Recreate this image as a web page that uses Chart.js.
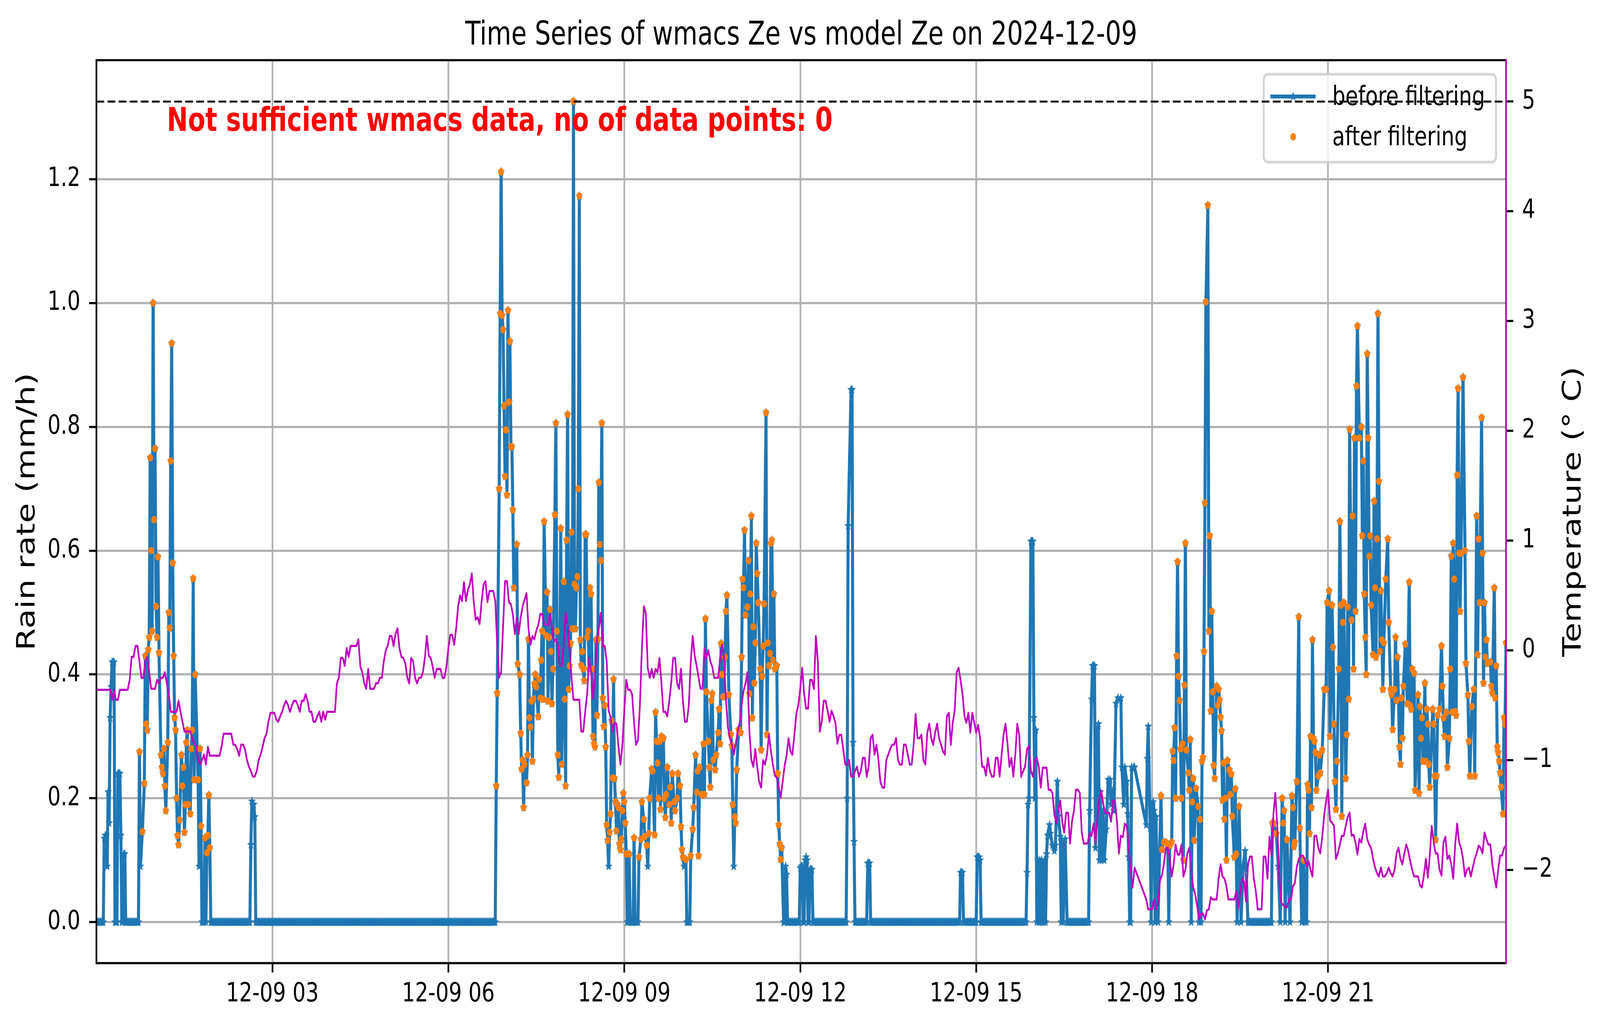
<!DOCTYPE html>
<html>
<head>
<meta charset="utf-8">
<title>wmacs Ze vs model Ze 2024-12-09</title>
<script src="https://cdn.jsdelivr.net/npm/chart.js@4.4.1/dist/chart.umd.min.js"></script>
<style>
  html, body { margin: 0; padding: 0; background: #fff; overflow: hidden; }
  #wrap { position: relative; width: 100vw; height: 100vh; overflow: hidden; }
  #ze-chart { display: block; position: absolute; left: 0; top: 0; transform-origin: 0 0; }
</style>
</head>
<body>
<div id="wrap">
<canvas id="ze-chart" width="5277" height="2631" style="width:5277px;height:2631px"></canvas>
</div>
<script>
// Axis ticks (x in minutes after 2024-12-09 00:00)
const xTickMinutes = [180, 360, 540, 720, 900, 1080, 1260];
const xTickLabels = ['12-09 03', '12-09 06', '12-09 09', '12-09 12', '12-09 15', '12-09 18', '12-09 21'];
const rainTicks = [0, 0.2, 0.4, 0.6, 0.8, 1.0, 1.2];
const rainTickLabels = ['0.0', '0.2', '0.4', '0.6', '0.8', '1.0', '1.2'];
const tempTicks = [-2, -1, 0, 1, 2, 3, 4, 5];
const tempTickLabels = ['\u22122', '\u22121', '0', '1', '2', '3', '4', '5'];

const chartTitle = 'Time Series of wmacs Ze vs model Ze on 2024-12-09';
const rainAxisTitle = 'Rain rate (mm/h)';
const tempAxisTitle = 'Temperature (\u00b0 C)';
const seriesLabels = ['before filtering', 'after filtering'];
const warningText = 'Not sufficient wmacs data, no of data points: 0';

// Rain rate, one value per minute, one row per hour (null = no sample read)
const rainByHour = [
  [0,0,0,0,0,0,0,0,0.135,0.14, 0.14,0.09,0.21,0.16,0.33,0.38,0.42,0.42,0.42,0, 0,0,0.24,0.24,0.24,0.14,0,0,0.11,0.11, 0,0,0,0,0,0,0,0,0,0, 0,0,0,0,0.275,0.09,null,0.146,null,0.224, 0.43,0.32,0.31,0.44,0.46,0.75,0.6,0.47,1.0,0.65],
  [0.765,0.51,0.46,0.59,0.435,null,0.27,0.25,0.24,0.28, 0.22,0.18,null,0.29,0.5,0.475,0.745,0.935,0.58,0.43, 0.33,0.31,0.2,0.14,0.125,0.165,null,0.27,0.22,0.25, 0.145,0.19,0.29,0.31,0.19,null,0.175,0.28,0.31,0.555, 0.23,0.4,null,null,0.23,0.09,0.28,0.155,0,0, 0,0.136,0,0.112,0.14,0.205,0.12,0,0,0],
  [0,0,0,0,0,0,0,0,0,0, 0,0,0,0,0,0,0,0,0,0, 0,0,0,0,0,0,0,0,0,0, 0,0,0,0,0,0,0,0,0.125,0.195, 0.19,0.19,0.17,0,0,0,0,0,0,0, 0,0,0,0,0,0,0,0,0,0],
  [0,0,0,0,0,0,0,0,0,0, 0,0,0,0,0,0,0,0,0,0, 0,0,0,0,0,0,0,0,0,0, 0,0,0,0,0,0,0,0,0,0, 0,0,0,0,0,0,0,0,0,0, 0,0,0,0,0,0,0,0,0,0],
  [0,0,0,0,0,0,0,0,0,0, 0,0,0,0,0,0,0,0,0,0, 0,0,0,0,0,0,0,0,0,0, 0,0,0,0,0,0,0,0,0,0, 0,0,0,0,0,0,0,0,0,0, 0,0,0,0,0,0,0,0,0,0],
  [0,0,0,0,0,0,0,0,0,0, 0,0,0,0,0,0,0,0,0,0, 0,0,0,0,0,0,0,0,0,0, 0,0,0,0,0,0,0,0,0,0, 0,0,0,0,0,0,0,0,0,0, 0,0,0,0,0,0,0,0,0,0],
  [0,0,0,0,0,0,0,0,0,0, 0,0,0,0,0,0,0,0,0,0, 0,0,0,0,0,0,0,0,0,0, 0,0,0,0,0,0,0,0,0,0, 0,0,0,0,0,0,0,0,0,0.22, 0.37,null,0.7,0.983,1.212,0.98,0.957,0.834,0.72,0.795],
  [0.69,0.988,0.84,0.938,0.768,0.768,0.666,0.54,null,null, 0.61,0.417,null,0.4,0.305,0.247,0.262,0.185,0.255,null, 0.225,0.27,0.457,0.33,0.315,0.357,0.26,0.36,0.385,0.4, 0.38,null,0.332,0.392,0.362,0.423,0.47,0.36,0.647,null, 0.463,0.533,0.357,0.46,0.505,0.437,0.353,0.409,null,0.658, 0.806,0.47,0.27,0.234,null,0.636,0.255,null,0.55,0.36],
  [0.22,0.617,0.82,0.376,0.414,0.45,0.63,0.474,1.326,0.546, 0.474,0.54,0.558,0.7,1.173,0.456,0.415,0.437,0.409,0.39, 0.626,0.626,0.46,0.47,0.409,0.54,0.53,0.409,0.3,0.288, 0.283,0.456,0.334,0.457,0.71,0.61,0.584,0.806,0.362,0.316, 0.35,0.283,0.157,0.132,0.09,0.145,0.175,0.325,0.233,0.392, 0.232,0.194,0.147,0.19,0.185,0.126,0.117,0.134,0.18,0.208],
  [0.194,0.16,0.11,0,0,0.11,0,0,0,0, 0.136,0,0,0,0,0.105,null,0.134,0.194,null, 0.166,0.138,null,0.124,0.09,0.143,0.2,null,0.247,0.244, null,0.141,0.339,0.292,0.257,0.2,0.292,0.182,0.3,null, 0.297,0.2,0.169,0.206,0.25,null,0.19,0.218,0.16,0.24, null,0.194,0.18,null,0.2,0.24,null,0.22,0.154,0.117],
  [0.105,0.09,null,0.101,0,0,0,0,0.107,null, 0.15,0.185,null,0.27,0.21,0.244,0.107,0.25,null,0.206, null,0.288,0.206,0.49,0.372,null,0.292,0.25,0.218,0.358, 0.369,0.262,null,0.246,0.27,null,0.306,0.344,0.288,0.45, 0.4,0.364,null,0.428,0.502,0.528,null,0.367,null,0.303, 0.285,0.19,0.09,0.17,0.16,0.246,null,0.311,null,0.306],
  [0.428,0.554,0.54,0.633,0.496,null,0.509,0.584,0.369,0.53, 0.656,0.33,0.477,0.386,0.451,0.612,0.563,0.516,null,0.409, 0.278,0.397,0.446,0.514,null,0.823,0.303,0.451,0.414,0.434, 0.612,0.617,0.423,0.53,0.409,null,0.414,0.24,0.157,0.126, 0.101,0.12,null,0,0,0.09,0.077,0,0,0, 0,0,0,0,0,0,0,0,0,0],
  [0.087,0.09,0.09,0,0,0.1,0.105,0.1,0,0, 0.085,0.085,0.085,0,0,0,0,0,0,0, 0,0,0,0,0,0,0,0,0,0, 0,0,0,0,0,0,0,0,0,0, 0,0,0,0,0,0,0,0,0.2,0.64, null,null,0.86,0.86,0.29,0.13,0,0,0,0],
  [0,0,0,0,0,0,0,0,0,0.095, 0.095,0.095,0,0,0,0,0,0,0,0, 0,0,0,0,0,0,0,0,0,0, 0,0,0,0,0,0,0,0,0,0, 0,0,0,0,0,0,0,0,0,0, 0,0,0,0,0,0,0,0,0,0],
  [0,0,0,0,0,0,0,0,0,0, 0,0,0,0,0,0,0,0,0,0, 0,0,0,0,0,0,0,0,0,0, 0,0,0,0,0,0,0,0,0,0, 0,0,0,0,0.08,0.08,0.08,0,0,0, 0,0,0,0,0,0,0,0,0,0],
  [0,0.105,0.105,0.105,0.1,0,0,0,0,0, 0,0,0,0,0,0,0,0,0,0, 0,0,0,0,0,0,0,0,0,0, 0,0,0,0,0,0,0,0,0,0, 0,0,0,0,0,0,0,0,0,0, 0,0,0.08,0.19,0.2,null,0.615,0.615,0.615,0.33],
  [0.2,0.31,0,0.1,0,0.1,0,0.1,0,0, 0.1,0,0.11,0.14,null,0.157,0.143,null,0.124,null, 0.115,0.124,null,0.227,0.171,null,0.138,0,0.13,0, null,0.134,null,0,0,0,0,0,0,0, 0,0,0,0,0,0,0,0,0,0, 0,0,0,0,0,0,0.18,null,0.36,0.414],
  [0.414,0.414,0.12,null,0.31,0.32,0.1,0.21,0.1,null, 0.18,0.1,null,0.15,null,0.23,null,0.23,0.19,null, 0.213,0.18,null,0.353,null,0.362,null,null,0.362,0.25, null,0.19,0.25,null,0.227,0.175,0.105,0,0,0.25, null,0.25,0.25,null,null,null,null,null,null,null, null,null,null,null,0.157,0.264,0.316,null,0.152,0],
  [0.19,0.194,0.18,0,0.17,null,0,null,null,0.204, 0.117,null,0.129,null,0.129,null,0.124,0,0.124,null, 0.129,0.276,0.261,0.314,0.2,0.43,0.582,0.397,0.358,0.28, 0.2,0.288,0.1,0.383,0.612,0.278,null,0.241,0.213,0.295, 0,0.194,0.232,0.132,null,0.216,null,0.187,0,0.166, 0,0.26,0.266,0.437,0.677,1.002,null,1.158,0.47,0.624],
  [0.341,0.502,0.372,0.253,0.232,null,0.381,0.35,0.376,0.359, 0.331,0.309,0.197,0.257,0.166,0.2,0.1,0.261,null,0.246, 0.206,0.239,0.171,null,0.105,0.215,0.11,0,null,0.187, null,0,null,0.09,null,0.115,0.09,null,0,0, 0,0,0,0,0,0,0,0,0,0, 0,0,0,0,0,0,0,0,0,0],
  [0,0,0,0.16,0.16,null,null,0.143,null,0.09, null,0,null,0.2,0.16,0.18,0,null,0.133,null, null,0,null,0.204,0.185,0.122,0.129,null,0.227,null, 0.493,0.152,null,0,null,0.1,0,null,0,0.222, 0.213,0.143,0.3,0.185,0.456,0.297,0.292,0.274,0.213,null, 0.236,0.27,0.241,null,0.278,null,0.376,null,0.376,0.516],
  [null,0.535,0.3,null,0.512,0.444,0.32,0.227,0.182,0.26, null,0.409,0.647,0.512,0.171,0.484,0.516,null,0.232,0.303, 0.509,0.36,0.796,null,0.488,0.656,0.409,0.782,0.502,0.866, 0.963,null,0.782,null,0.8,0.624,0.745,0.53,0.46,0.4, 0.918,0.782,0.591,0.624,0.512,null,0.432,0.68,0.54,0.428, 0.619,0.983,0.712,0.437,0.535,0.456,0.376,0.451,null,0.554],
  [null,0.619,0.484,null,0.376,0.367,0.311,null,0.376,0.46, 0.358,0.428,null,0.283,0.255,0.362,0.297,0.381,null,0.449, null,0.353,null,0.549,0.35,0.344,0.409,null,0.402,0.213, null,null,0.367,0.208,0.348,0.297,0.33,0.26,null,0.386, 0.26,0.344,0.32,0.255,0.218,null,null,0.344,0.32,0.236, 0.133,0.236,0.334,null,0.344,null,0.446,0.381,0.33,0.3],
  [null,0.339,0.25,null,0.297,0.409,0.591,0.339,0.612,0.554, 0.34,0.334,0.722,0.862,0.596,0.502,0.596,null,0.88,null, 0.6,0.418,null,0.367,0.292,0.236,null,0.348,null,0.376, 0.236,null,0.656,0.432,0.619,0.516,null,0.815,0.596,0.386, 0.516,0.428,0.456,0.418,null,null,0.42,0.381,0.37,null, 0.54,0.362,0.414,0.283,0.274,0.26,0.241,0.218,null,0.175]
];
const rainTail = [0.33, 0.32, 0.451];   // minutes 1440-1442

// Periods where the filter keeps samples, and the minimum rain rate kept
const filterWindows = [[43, 117], [408, 705], [1086, 1170], [1200, 1442]];
const filterThreshold = 0.1;

// Model temperature (deg C), one value every 2 minutes, one row per hour
const tempByHour = [
  [-0.36,-0.36,-0.36,-0.36,-0.36,-0.36,-0.36,-0.36,-0.45,-0.36, -0.45,-0.45,-0.36,-0.36,-0.36,-0.36,-0.36,-0.27,-0.06,-0.06, 0.04,0.04,-0.1,-0.25,-0.25,-0.1,-0.06,-0.2,-0.35,-0.35],
  [-0.35,-0.27,-0.3,-0.25,-0.25,-0.2,-0.3,-0.4,-0.56,-0.56, -0.56,-0.56,-0.46,-0.56,-0.65,-0.74,-0.74,-0.74,-0.74,-0.8, -0.85,-0.87,-1.0,-1.04,-1.0,-0.95,-1.04,-0.88,-0.96,-0.96],
  [-0.96,-0.96,-0.96,-0.96,-0.88,-0.76,-0.76,-0.76,-0.76,-0.76, -0.86,-0.86,-0.9,-0.96,-0.86,-0.86,-0.9,-1.0,-1.06,-1.1, -1.15,-1.15,-1.1,-1.0,-0.95,-0.88,-0.8,-0.76,-0.65,-0.57],
  [-0.57,-0.57,-0.63,-0.65,-0.6,-0.56,-0.5,-0.46,-0.5,-0.56, -0.5,-0.46,-0.46,-0.5,-0.56,-0.46,-0.46,-0.4,-0.46,-0.56, -0.56,-0.65,-0.65,-0.6,-0.56,-0.65,-0.56,-0.63,-0.56,-0.56],
  [-0.56,-0.56,-0.56,-0.3,-0.25,-0.07,-0.07,-0.14,0.02,-0.06, 0.04,0.04,0.04,0.04,0.1,-0.15,-0.2,-0.3,-0.35,-0.17, -0.35,-0.35,-0.35,-0.3,-0.3,-0.25,-0.25,-0.1,0.0,0.04],
  [0.13,0.13,0.04,0.15,0.2,0.02,-0.06,-0.07,-0.12,-0.25, -0.3,-0.07,-0.1,-0.25,-0.3,-0.25,-0.25,-0.2,-0.07,0.13, -0.05,-0.07,-0.15,-0.25,-0.17,-0.17,-0.17,-0.25,-0.25,-0.15],
  [0.02,0.14,0.14,0.05,0.2,0.4,0.5,0.45,0.62,0.45, 0.55,0.6,0.7,0.44,0.28,0.3,0.24,0.44,0.6,0.63, 0.44,0.54,0.54,0.54,0.45,0.05,-0.25,-0.2,0.22,0.63],
  [0.63,0.44,0.42,0.33,0.15,0.3,0.15,0.3,0.4,0.46, 0.52,0.2,0.05,0.13,0.1,0.18,0.23,0.33,0.33,0.24, 0.23,0.23,0.33,0.2,0.08,0.1,0.05,-0.14,-0.14,0.05],
  [0.34,0.22,0.0,-0.25,-0.45,-0.45,-0.45,-0.45,-0.74,-0.74, -0.56,-0.4,-0.07,-0.19,-0.44,-0.24,0.1,0.2,0.34,0.04, 0.04,-0.1,-0.55,-0.61,-0.74,-0.66,-0.67,-0.87,-1.04,-0.87],
  [-0.55,-0.27,-0.36,-0.36,-0.4,-0.66,-0.86,-0.82,-0.5,0.02, 0.4,0.34,-0.16,-0.25,-0.17,-0.25,-0.17,-0.2,-0.07,-0.3, -0.56,-0.56,-0.6,-0.46,-0.3,-0.07,-0.07,-0.3,-0.35,-0.17],
  [-0.46,-0.65,-0.65,-0.5,-0.1,0.13,-0.05,-0.14,-0.25,-0.35, -0.35,0.02,-0.07,0.0,-0.1,-0.15,-0.25,-0.25,-0.25,-0.07, 0.05,-0.05,-0.45,-0.7,-0.8,-0.86,-0.95,-0.85,-0.74,-0.66],
  [-0.5,-0.37,-0.3,-0.2,-0.74,-1.0,-1.06,-0.9,-1.06,-1.2, -1.25,-1.0,-1.04,-0.95,-0.77,-0.92,-1.04,-1.14,-1.16,-1.25, -1.34,-1.2,-1.05,-0.96,-0.8,-0.92,-0.95,-0.77,-0.58,-0.5],
  [-0.35,-0.16,-0.4,-0.53,-0.53,-0.27,-0.27,-0.35,0.13,-0.1, -0.74,-0.65,-0.46,-0.46,-0.55,-0.65,-0.55,-0.6,-0.66,-0.85, -0.77,-0.77,-0.9,-1.04,-1.04,-1.0,-1.15,-1.15,-1.1,-1.06],
  [-1.15,-1.1,-0.98,-0.98,-1.15,-1.06,-0.8,-0.77,-0.95,-0.86, -1.0,-1.2,-1.25,-1.25,-1.0,-0.95,-0.9,-0.86,-0.86,-0.8, -1.0,-1.04,-1.04,-0.86,-0.86,-0.95,-1.04,-1.04,-0.86,-0.58],
  [-0.8,-0.8,-0.77,-1.0,-1.04,-0.75,-0.67,-0.8,-0.86,-0.75, -0.67,-0.8,-0.86,-0.92,-0.95,-0.6,-0.57,-0.86,-0.66,-0.55, -0.2,-0.16,-0.27,-0.4,-0.6,-0.66,-0.57,-0.75,-0.57,-0.66],
  [-0.75,-0.68,-0.8,-1.06,-1.06,-1.14,-0.98,-1.1,-1.15,-1.15, -0.98,-0.98,-1.15,-0.95,-0.77,-0.67,-0.85,-1.06,-0.98,-1.15, -0.95,-0.67,-0.77,-1.15,-1.1,-1.06,-0.9,-0.87,-1.1,-1.15],
  [-1.0,-0.98,-1.06,-1.25,-1.07,-1.07,-1.07,-1.27,-1.27,-1.3, -1.5,-1.57,-1.45,-1.37,-1.56,-1.66,-1.48,-1.48,-1.76,-1.56, -1.46,-1.27,-1.27,-1.3,-1.66,-1.76,-1.76,-1.76,-1.66,-1.69],
  [-1.58,-1.76,-1.53,-1.35,-1.28,-1.4,-1.48,-1.48,-1.48,-1.56, -1.37,-1.37,-1.56,-1.85,-1.69,-1.7,-1.58,-1.6,-1.8,-2.0, -2.16,-1.98,null,null,null,null,null,-2.27,-2.36,-2.36],
  [-2.36,-2.27,-2.36,-2.3,-2.1,-2.05,-1.95,-1.8,-1.8,-1.9, -2.06,-1.95,-1.77,-1.86,-1.86,-1.77,-2.06,-2.0,-1.85,-1.8, -2.0,-2.16,-2.22,-2.33,-2.45,-2.4,-2.4,-2.45,-2.37,-2.36],
  [-2.25,-2.27,-2.27,-2.27,-2.08,-1.95,-2.06,-2.08,-2.15,-2.27, -2.27,-2.27,-2.27,-2.2,-2.35,-2.2,-2.08,-2.11,-2.29,-1.95, -1.88,-1.88,-2.08,-2.19,-2.36,-2.36,-2.36,-1.88,-1.88,-2.08],
  [-1.7,-1.87,-1.5,-1.3,-1.6,-2.05,-2.3,-2.32,-2.34,-2.34, -2.27,-2.27,-2.15,-2.12,-1.97,-1.9,-1.87,-1.87,-1.9,-1.97, -1.92,-2.0,-2.06,-1.69,-1.69,-1.8,-1.85,-1.7,-1.5,-1.37],
  [-1.27,-1.55,-1.57,-1.6,-1.9,-1.85,-1.77,-1.69,-1.69,-1.6, -1.52,-1.48,-1.69,-1.68,-1.75,-1.86,-1.72,-1.75,-1.65,-1.58, -1.72,-1.77,-1.8,-1.9,-1.98,-2.03,-2.06,-1.98,-2.06,-2.06],
  [-2.03,-1.98,-2.03,-2.06,-2.0,-1.85,-1.8,-1.9,-1.95,-1.85, -1.77,-1.83,-1.92,-2.0,-2.06,-2.06,-2.06,-2.14,-2.16,-2.05, -1.9,-2.07,-1.87,-1.6,-1.75,-1.85,-1.85,-2.0,-2.05,-1.75],
  [-1.7,-1.9,-1.87,-1.95,-2.08,-1.77,-1.58,-1.75,-1.8,-1.9, -2.06,-2.0,-1.98,-2.06,-1.98,-1.9,-1.85,-1.78,-1.8,-1.85, -1.66,-1.72,-1.77,-1.77,-1.95,-2.06,-2.16,-2.0,-1.87,-1.87]
];
const tempTail = [-1.8, -1.78];   // minutes 1440, 1442

const tempReference = 5;   // dashed reference line on the temperature axis

const COLORS = {
  before: '#1f77b4',
  after: '#ff7f0e',
  temp: '#bf00bf',
  grid: '#b0b0b0'
};
const FONT = '"DejaVu Sans", "Liberation Sans", sans-serif';
const CANVAS_W = 5277, CANVAS_H = 2631;

// Build point lists
function buildRainPoints() {
  const points = [];
  rainByHour.forEach((row, h) => {
    if (row.length !== 60) console.warn('rain row', h, 'has', row.length, 'values');
    row.forEach((v, i) => {
      if (v !== null) points.push({ x: h * 60 + i, y: v });
    });
  });
  rainTail.forEach((v, i) => {
    if (v !== null) points.push({ x: 1440 + i, y: v });
  });
  return points;
}

function buildTempPoints() {
  const points = [];
  tempByHour.forEach((row, h) => {
    if (row.length !== 30) console.warn('temp row', h, 'has', row.length, 'values');
    row.forEach((v, i) => {
      if (v !== null) points.push({ x: h * 60 + i * 2, y: v });
    });
  });
  tempTail.forEach((v, i) => {
    if (v !== null) points.push({ x: 1440 + i * 2, y: v });
  });
  return points;
}

const rainPoints = buildRainPoints();
const filteredPoints = rainPoints.filter(p =>
  p.y >= filterThreshold && filterWindows.some(w => p.x >= w[0] && p.x <= w[1]));
const tempPoints = buildTempPoints();

// matplotlib-like filled star marker
function makeStar(r, color) {
  const c = document.createElement('canvas');
  c.width = c.height = Math.ceil(2 * r + 2);
  const ctx = c.getContext('2d');
  const cx = c.width / 2, cy = c.height / 2;
  ctx.fillStyle = color;
  ctx.beginPath();
  for (let k = 0; k < 10; k++) {
    const ang = -Math.PI / 2 + k * Math.PI / 5;
    const rr = k % 2 === 0 ? r : r * 0.42;
    ctx.lineTo(cx + rr * Math.cos(ang), cy + rr * Math.sin(ang));
  }
  ctx.closePath();
  ctx.fill();
  return c;
}
const starMarker = makeStar(13, COLORS.before);

function fixedTicks(values) {
  return function (scale) {
    scale.ticks = values.map(v => ({ value: v }));
  };
}

function drawLegend(chart) {
  const ctx = chart.ctx;
  const area = chart.chartArea;
  const boxW = 766, boxH = 225;
  const x0 = area.right - 33 - boxW;
  const y0 = area.top + 36;
  ctx.save();
  ctx.beginPath();
  ctx.roundRect(x0, y0, boxW, boxH, 14);
  ctx.fillStyle = 'rgba(255,255,255,0.8)';
  ctx.fill();
  ctx.lineWidth = 7;
  ctx.strokeStyle = 'rgba(204,204,204,0.8)';
  ctx.stroke();

  const handleX = x0 + 97;
  const row1 = y0 + 57, row2 = y0 + 160;
  ctx.beginPath();
  ctx.moveTo(x0 + 22, row1);
  ctx.lineTo(x0 + 171, row1);
  ctx.strokeStyle = COLORS.before;
  ctx.lineWidth = 10;
  ctx.stroke();
  ctx.drawImage(starMarker, handleX - starMarker.width / 2, row1 - starMarker.height / 2);

  ctx.beginPath();
  ctx.arc(handleX, row2, 9.5, 0, Math.PI * 2);
  ctx.fillStyle = COLORS.after;
  ctx.fill();

  ctx.fillStyle = '#000';
  ctx.font = '68px ' + FONT;
  ctx.textAlign = 'left';
  ctx.textBaseline = 'alphabetic';
  ctx.fillText(seriesLabels[0], x0 + 226, row1 + 22);
  ctx.fillText(seriesLabels[1], x0 + 226, row2 + 22);
  ctx.restore();
}

function drawWarning(chart) {
  const ctx = chart.ctx;
  const area = chart.chartArea;
  ctx.save();
  ctx.fillStyle = 'red';
  ctx.font = 'bold 83px ' + FONT;
  ctx.textAlign = 'left';
  ctx.textBaseline = 'alphabetic';
  ctx.fillText(warningText, area.left + 0.05 * (area.right - area.left), area.top + 181);
  ctx.restore();
}

const overlayPlugin = {
  id: 'overlay',
  afterDatasetDraw(chart, args) {
    // text and legend belong to the rain axes, under the temperature axes
    if (args.index === 1) {
      drawWarning(chart);
      drawLegend(chart);
    }
  },
  afterDatasetsDraw(chart) {
    const ctx = chart.ctx;
    const area = chart.chartArea;
    const y = chart.scales.y2.getPixelForValue(tempReference);
    ctx.save();
    ctx.beginPath();
    ctx.setLineDash([25.6, 11]);
    ctx.moveTo(area.left, y);
    ctx.lineTo(area.right, y);
    ctx.strokeStyle = '#000';
    ctx.lineWidth = 5;
    ctx.stroke();
    ctx.restore();
  },
  afterDraw(chart) {
    const ctx = chart.ctx;
    const a = chart.chartArea;
    const lw = 5.5;
    ctx.save();
    // spines
    ctx.lineWidth = lw;
    ctx.strokeStyle = '#000';
    ctx.beginPath();
    ctx.moveTo(a.left, a.bottom + lw / 2); ctx.lineTo(a.left, a.top - lw / 2);
    ctx.moveTo(a.left - lw / 2, a.top); ctx.lineTo(a.right + lw / 2, a.top);
    ctx.moveTo(a.left - lw / 2, a.bottom); ctx.lineTo(a.right + lw / 2, a.bottom);
    ctx.stroke();
    ctx.strokeStyle = COLORS.temp;
    ctx.beginPath();
    ctx.moveTo(a.right, a.bottom + lw / 2); ctx.lineTo(a.right, a.top - lw / 2);
    ctx.stroke();

    // title
    ctx.fillStyle = '#000';
    ctx.font = '83px ' + FONT;
    ctx.textAlign = 'center';
    ctx.textBaseline = 'alphabetic';
    ctx.fillText(chartTitle, (a.left + a.right) / 2, a.top - 40);

    // axis titles
    const midY = (a.top + a.bottom) / 2;
    ctx.save();
    ctx.translate(114, midY);
    ctx.rotate(-Math.PI / 2);
    ctx.fillText(rainAxisTitle, 0, 0);
    ctx.restore();
    ctx.save();
    ctx.translate(a.right + 246, midY);
    ctx.rotate(-Math.PI / 2);
    ctx.fillText(tempAxisTitle, 0, 0);
    ctx.restore();
    ctx.restore();
  }
};

Chart.defaults.font.family = FONT;
Chart.defaults.color = '#000';

const tickFont = { family: FONT, size: 68 };
const canvas = document.getElementById('ze-chart');

new Chart(canvas, {
  type: 'line',
  data: {
    datasets: [
      {
        label: seriesLabels[0],
        data: rainPoints,
        yAxisID: 'y',
        borderColor: COLORS.before,
        backgroundColor: COLORS.before,
        borderWidth: 10,
        borderJoinStyle: 'round',
        pointStyle: starMarker,
        pointRadius: 12,
        spanGaps: true,
        tension: 0,
        order: 3
      },
      {
        label: seriesLabels[1],
        data: filteredPoints,
        yAxisID: 'y',
        showLine: false,
        pointStyle: 'circle',
        pointRadius: 9.5,
        pointBorderWidth: 0,
        pointBackgroundColor: COLORS.after,
        borderColor: COLORS.after,
        order: 2
      },
      {
        label: 'temperature',
        data: tempPoints,
        yAxisID: 'y2',
        borderColor: COLORS.temp,
        borderWidth: 5.5,
        borderJoinStyle: 'round',
        pointRadius: 0,
        spanGaps: true,
        tension: 0,
        order: 1
      }
    ]
  },
  options: {
    responsive: false,
    devicePixelRatio: 1,
    animation: false,
    events: [],
    layout: { padding: { top: 154, left: 0, right: 0, bottom: 0 } },
    plugins: {
      legend: { display: false },
      title: { display: false },
      tooltip: { enabled: false }
    },
    scales: {
      x: {
        type: 'linear',
        position: 'bottom',
        min: 0,
        max: 1442,
        afterBuildTicks: fixedTicks(xTickMinutes),
        afterFit: s => { s.height = 166; },
        border: { display: false },
        grid: { color: COLORS.grid, lineWidth: 5.5, drawTicks: true, tickLength: 24, tickWidth: 5.5, tickColor: '#000' },
        ticks: {
          autoSkip: false,
          maxRotation: 0,
          padding: 16,
          font: tickFont,
          color: '#000',
          callback: v => xTickLabels[xTickMinutes.indexOf(v)]
        }
      },
      y: {
        type: 'linear',
        position: 'left',
        min: -0.0663,
        max: 1.3923,
        afterBuildTicks: fixedTicks(rainTicks),
        afterFit: s => { s.width = 318; },
        border: { display: false },
        grid: { color: COLORS.grid, lineWidth: 5.5, drawTicks: true, tickLength: 24, tickWidth: 5.5, tickColor: '#000' },
        ticks: {
          padding: 29,
          font: tickFont,
          color: '#000',
          callback: v => rainTickLabels[rainTicks.findIndex(t => Math.abs(t - v) < 1e-9)]
        }
      },
      y2: {
        type: 'linear',
        position: 'right',
        min: -2.85,
        max: 5.377,
        afterBuildTicks: fixedTicks(tempTicks),
        afterFit: s => { s.width = 310; },
        border: { display: false },
        grid: { drawOnChartArea: false, drawTicks: true, tickLength: 24, tickWidth: 5.5, tickColor: '#000' },
        ticks: {
          padding: 29,
          font: tickFont,
          color: '#000',
          callback: v => tempTickLabels[tempTicks.indexOf(v)]
        }
      }
    }
  },
  plugins: [overlayPlugin]
});

// The browser window is narrower than the requested 5277 px (it is capped),
// so stretch the fixed-size drawing onto whatever window we actually get.
function fitToWindow() {
  const sx = window.innerWidth / CANVAS_W;
  const sy = window.innerHeight / CANVAS_H;
  canvas.style.transform = 'scale(' + sx + ',' + sy + ')';
}
fitToWindow();
window.addEventListener('resize', fitToWindow);
</script>
</body>
</html>
